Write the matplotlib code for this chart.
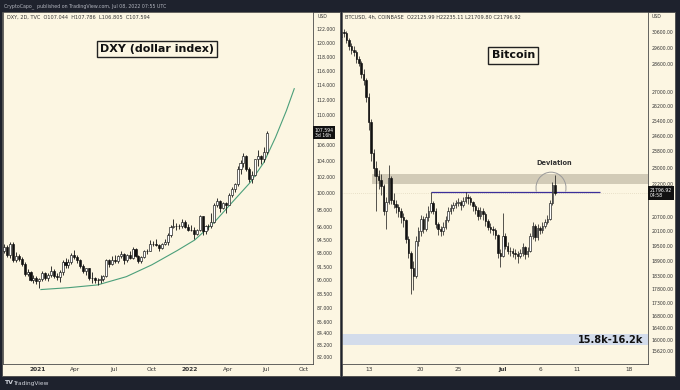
import numpy as np
import pandas as pd
import matplotlib
matplotlib.use('Agg')
import matplotlib.pyplot as plt
import matplotlib.dates as mdates
from matplotlib.patches import Rectangle, Arc
from matplotlib.ticker import NullLocator, NullFormatter
from matplotlib.transforms import blended_transform_factory as blend

plt.rcParams['font.family'] = ['DejaVu Sans']

# ---------------- DXY (weekly candles approximating the 2D chart) ----------------
dxy_start = '2020-10-12'
dxy_open0 = 93.3
dxy_close = [93.7, 92.8, 94.0, 92.2, 92.7, 92.4, 91.8, 90.7, 90.9, 90.0,
             90.3, 89.9, 90.1, 90.8, 90.2, 90.6, 91.0, 90.5, 90.4, 90.9,
             92.0, 91.7, 92.0, 92.8, 92.6, 92.2, 91.6, 91.0, 91.3, 90.2,
             90.3, 90.0, 90.0, 90.1, 90.5, 92.2, 91.8, 92.2, 92.1, 92.7,
             92.9, 92.2, 92.8, 92.5, 93.5, 92.7, 92.1, 92.6, 93.2, 93.3,
             94.0, 94.1, 93.9, 93.6, 94.1, 94.3, 95.1, 96.0, 96.1, 96.1,
             96.1, 96.6, 96.0, 95.7, 95.7, 95.2, 95.6, 97.3, 95.5, 96.1,
             96.1, 96.6, 98.6, 99.1, 98.2, 98.8, 98.6, 99.8, 100.5, 101.1,
             103.0, 103.7, 104.6, 103.0, 101.7, 102.2, 104.2, 104.6, 104.2, 105.1,
             107.594]
dxy_high = [94.1, 93.9, 94.3, 94.3, 93.1, 92.9, 92.6, 92.0, 91.2, 91.0,
            90.6, 90.5, 90.3, 91.0, 90.9, 90.8, 91.6, 91.2, 90.8, 91.1,
            92.2, 92.5, 92.3, 93.0, 93.4, 92.8, 92.3, 91.8, 91.4, 91.4,
            90.9, 90.4, 90.2, 90.6, 90.6, 92.4, 92.4, 92.7, 92.8, 92.8,
            93.2, 93.0, 92.9, 93.2, 93.7, 93.6, 92.8, 92.7, 93.4, 93.5,
            94.5, 94.4, 94.6, 94.0, 94.2, 94.6, 95.3, 96.2, 96.9, 96.5,
            96.4, 96.9, 96.8, 96.3, 96.2, 96.0, 95.8, 97.4, 97.3, 96.2,
            96.4, 97.6, 98.8, 99.4, 99.2, 99.0, 99.0, 100.0, 100.8, 101.3,
            103.3, 104.1, 105.0, 104.7, 103.2, 102.7, 104.3, 105.4, 104.8, 105.8,
            107.786]
dxy_low = [93.0, 92.6, 92.5, 92.0, 92.0, 92.1, 91.6, 90.5, 90.5, 89.9,
           89.7, 89.6, 89.2, 89.9, 90.0, 89.9, 90.4, 90.3, 90.0, 89.8,
           90.6, 91.4, 91.3, 91.8, 92.4, 91.9, 91.4, 90.8, 90.6, 90.0,
           89.7, 89.7, 89.5, 89.7, 89.9, 90.4, 91.5, 91.7, 91.9, 91.9,
           92.5, 91.8, 92.0, 92.3, 92.4, 92.6, 91.9, 91.9, 92.5, 92.9,
           93.2, 93.8, 93.8, 93.3, 93.5, 93.9, 93.9, 94.9, 95.9, 95.7,
           95.8, 95.9, 95.9, 95.5, 95.5, 94.6, 95.1, 95.5, 95.1, 95.2,
           95.6, 95.9, 96.5, 98.3, 97.8, 98.1, 97.7, 98.6, 99.6, 100.1,
           100.9, 102.4, 103.2, 102.7, 101.4, 101.3, 102.1, 103.4, 103.6, 103.9,
           104.9]
dxy_curve_dates = ['2021-01-08', '2021-03-15', '2021-05-24', '2021-08-01', '2021-10-01',
                   '2021-12-01', '2022-01-12', '2022-03-01', '2022-04-10', '2022-05-25',
                   '2022-06-27', '2022-07-25', '2022-08-20', '2022-09-08']
dxy_curve_vals = [89.0, 89.2, 89.5, 90.4, 91.7, 93.3, 94.5, 96.6, 98.8, 101.3,
                  103.8, 107.0, 110.5, 113.5]
dxy_yticks = [122, 120, 118, 116, 114, 112, 110, 106, 104, 102, 100, 98, 96, 94.5,
              93, 91.5, 90, 88.5, 87, 85.6, 84.4, 83.2, 82]
dxy_xtick_dates = ['2021-01-01', '2021-04-01', '2021-07-01', '2021-10-01',
                   '2022-01-01', '2022-04-01', '2022-07-01', '2022-10-01']
dxy_xtick_labels = ['2021', 'Apr', 'Jul', 'Oct', '2022', 'Apr', 'Jul', 'Oct']
dxy_last = 107.594
dxy_xlim = ('2020-10-09', '2022-10-23')
dxy_ylim = (81.33, 124.54)

# ---------------- BTC (8h candles approximating the 4h chart) ----------------
btc_start = '2022-06-09 08:00'
btc_open0 = 30300
btc_close = [30600, 30550, 30100, 29700, 29500, 29350, 28900, 28700, 28000, 27650,
             26700, 25300, 23700, 23000, 22600, 22400, 22100, 21000, 21400, 22500,
             21500, 21300, 21150, 21000, 20700, 20580, 19800, 19200, 18600, 18300,
             19700, 20100, 20650, 20200, 20700, 21000, 21350, 21000, 20400, 20200,
             20100, 20300, 20600, 21000, 21100, 21250, 21350, 21400, 21250, 21450,
             21600, 21550, 21400, 21200, 21050, 20750, 21000, 20850, 20550, 20300,
             20200, 20150, 19950, 19200, 19100, 19900, 19500, 19300, 19270, 19200,
             19150, 19100, 19200, 19450, 19150, 19300, 19900, 20350, 19850, 20250,
             20150, 20350, 20500, 20650, 21350, 22150, 21796.92]
btc_high = [30900, 30800, 30650, 30200, 29900, 29700, 29450, 29100, 28800, 28300,
            27800, 26900, 25500, 23900, 23300, 22900, 22700, 22200, 21600, 23100,
            22600, 21800, 21500, 21300, 21100, 20900, 20650, 19900, 19300, 18900,
            19900, 20300, 20800, 20750, 20900, 21200, 21850, 21450, 21100, 20500,
            20350, 20500, 20750, 21150, 21300, 21400, 21500, 21550, 21500, 21600,
            21850, 21750, 21650, 21450, 21300, 21150, 21150, 21100, 20950, 20650,
            20450, 20350, 20250, 20000, 19350, 20900, 20050, 19650, 19450, 19400,
            19350, 19300, 19350, 19600, 19500, 19450, 20050, 20500, 20400, 20400,
            20350, 20500, 20650, 20800, 21500, 22300, 22640]
btc_low = [30150, 30300, 29900, 29500, 29250, 29100, 28700, 28500, 27800, 27400,
           26400, 24900, 23300, 22600, 21000, 22000, 21700, 20800, 20200, 21300,
           21300, 21100, 20900, 20700, 20450, 20300, 19600, 19000, 17600, 17750,
           18200, 19500, 19900, 20050, 20100, 20550, 20900, 20850, 20250, 19950,
           19900, 19950, 20200, 20500, 20850, 21000, 21100, 21200, 21050, 21150,
           21350, 21300, 21250, 21000, 20850, 20600, 20650, 20600, 20350, 20150,
           20050, 19950, 19800, 19000, 18650, 19050, 19350, 19150, 19100, 19050,
           18950, 18800, 19000, 19100, 18950, 19050, 19250, 19800, 19700, 19750,
           20000, 20050, 20250, 20400, 20600, 21250, 21700]
btc_yticks = [30600, 29600, 28600, 27000, 26200, 25400, 24600, 23800, 23000, 22200,
              20700, 20100, 19500, 18900, 18300, 17800, 17300, 16800, 16400, 16000, 15620]
btc_xtick_dates = ['2022-06-13', '2022-06-20', '2022-06-25', '2022-07-01',
                   '2022-07-06', '2022-07-11', '2022-07-18']
btc_xtick_labels = ['13', '20', '25', 'Jul', '6', '11', '18']
btc_last = 21796.92
btc_xlim = ('2022-06-09 10:00', '2022-07-20 12:00')
btc_ylim = (15195, 31935)
resist_zone = (22200, 22690)
resist_start = '2022-06-13 10:00'
support_zone = (15800, 16200)
breakout_level = 21850
breakout_span = ('2022-06-21 08:00', '2022-07-14 00:00')

# ---------------- layout ----------------
W, H = 680, 390
DARK = '#1e222d'
CREAM = '#fcf6e2'
EDGE = '#4a4a4a'
TXT = '#333333'
YFS = 3.3

fig = plt.figure(figsize=(W / 100, H / 100), dpi=100, facecolor=DARK)


def frect(x0, y0, x1, y1):
    return [x0 / W, 1 - y1 / H, (x1 - x0) / W, (y1 - y0) / H]


for (x0, y0, x1, y1) in [(2, 12, 340, 376), (342, 12, 675, 376)]:
    r = frect(x0, y0, x1, y1)
    fig.add_artist(Rectangle((r[0], r[1]), r[2], r[3], transform=fig.transFigure,
                             facecolor=CREAM, edgecolor=EDGE, lw=0.6, zorder=-5))

axL = fig.add_axes(frect(3, 12, 313, 364), facecolor=CREAM)
axR = fig.add_axes(frect(342, 12, 648, 364), facecolor=CREAM)
axL.set_zorder(2)
axR.set_zorder(2)


def candles(ax, x, o, h, l, c, width, wlw):
    o = np.asarray(o, float); c = np.asarray(c, float)
    h = np.asarray(h, float); l = np.asarray(l, float)
    up = c >= o
    ax.vlines(x, l, h, color='#111111', lw=wlw, zorder=3)
    bottom = np.minimum(o, c)
    height = np.abs(c - o)
    ax.bar(x[up], height[up], width, bottom=bottom[up], color='white',
           edgecolor='#111111', lw=0.45, zorder=4)
    ax.bar(x[~up], height[~up], width, bottom=bottom[~up], color='#111111',
           edgecolor='#111111', lw=0.45, zorder=4)


def style(ax, yticks, fmt, xdates, xlabels, bold_labels=()):
    ax.set_yscale('log')
    ax.yaxis.tick_right()
    ax.yaxis.set_minor_locator(NullLocator())
    ax.yaxis.set_minor_formatter(NullFormatter())
    ax.set_yticks(yticks)
    ax.set_yticklabels([fmt.format(v) for v in yticks])
    ax.tick_params(axis='y', length=0, pad=2.5, labelsize=YFS, colors=TXT)
    xt = mdates.date2num(pd.to_datetime(xdates))
    ax.set_xticks(xt)
    ax.set_xticklabels(xlabels)
    ax.tick_params(axis='x', length=0, pad=2, labelsize=4.2, colors=TXT)
    for lab in ax.get_xticklabels():
        lab.set_fontweight('bold' if lab.get_text() in bold_labels else 'normal')
    for s in ax.spines.values():
        s.set_color(EDGE)
        s.set_linewidth(0.6)


# ---------------- DXY panel ----------------
dxy_x = mdates.date2num(pd.date_range(dxy_start, periods=len(dxy_close), freq='7D'))
dxy_open = [dxy_open0] + dxy_close[:-1]
candles(axL, dxy_x, dxy_open, dxy_high, dxy_low, dxy_close, 5.0, 0.6)
axL.plot(mdates.date2num(pd.to_datetime(dxy_curve_dates)), dxy_curve_vals,
         color='#4b9f7a', lw=0.8, zorder=2)
style(axL, dxy_yticks, '{:.3f}', dxy_xtick_dates, dxy_xtick_labels, ('2021', '2022'))
axL.set_xlim(*mdates.date2num(pd.to_datetime(list(dxy_xlim))))
axL.set_ylim(*dxy_ylim)
axL.text(1.006, dxy_last, f'{dxy_last:.3f}\n3d 16h', transform=blend(axL.transAxes, axL.transData),
         ha='left', va='center', fontsize=YFS, color='white', linespacing=1.0,
         bbox=dict(boxstyle='square,pad=0.35', fc='#111111', ec='none'), zorder=6, clip_on=False)
axL.text(0.497, 0.895, 'DXY (dollar index)', transform=axL.transAxes, ha='center', va='center',
         fontsize=8, fontweight='bold', color='#111111',
         bbox=dict(boxstyle='square,pad=0.3', fc=CREAM, ec='#222222', lw=1.0), zorder=6)

# ---------------- BTC panel ----------------
btc_x = mdates.date2num(pd.date_range(btc_start, periods=len(btc_close), freq='8h'))
btc_open = [btc_open0] + btc_close[:-1]
xl = mdates.date2num(pd.to_datetime(list(btc_xlim)))
axR.fill_between([mdates.date2num(pd.Timestamp(resist_start)), xl[1]], resist_zone[0], resist_zone[1],
                 color='#d2cbb7', lw=0, zorder=1)
axR.axhspan(support_zone[0], support_zone[1], color='#d3dceb', lw=0, zorder=1)
axR.axhline(btc_last, color='#d6ccb0', lw=0.5, ls=(0, (1, 2)), zorder=1)
bs = mdates.date2num(pd.to_datetime(list(breakout_span)))
axR.hlines(breakout_level, bs[0], bs[1], color='#3b2f9a', lw=0.9, zorder=2)
candles(axR, btc_x, btc_open, btc_high, btc_low, btc_close, 0.2, 0.5)
style(axR, btc_yticks, '{:.2f}', btc_xtick_dates, btc_xtick_labels, ('Jul',))
axR.set_xlim(*xl)
axR.set_ylim(*btc_ylim)
axR.text(1.006, btc_last, f'{btc_last:.2f}\n04:58', transform=blend(axR.transAxes, axR.transData),
         ha='left', va='center', fontsize=YFS, color='white', linespacing=1.0,
         bbox=dict(boxstyle='square,pad=0.35', fc='#111111', ec='none'), zorder=6, clip_on=False)
axR.text(0.560, 0.877, 'Bitcoin', transform=axR.transAxes, ha='center', va='center',
         fontsize=8, fontweight='bold', color='#111111',
         bbox=dict(boxstyle='square,pad=0.3', fc=CREAM, ec='#222222', lw=1.0), zorder=6)
axR.add_patch(Arc((0.683, 0.500), 0.098, 0.090, theta1=-12, theta2=192,
                  transform=axR.transAxes, color='#9a9a9a', lw=0.7, zorder=5))
axR.text(0.693, 0.571, 'Deviation', transform=axR.transAxes, ha='center', va='center',
         fontsize=4.8, fontweight='bold', color='#333333', zorder=6)
axR.text(0.985, sum(support_zone) / 2, '15.8k-16.2k', transform=blend(axR.transAxes, axR.transData),
         ha='right', va='center', fontsize=7, fontweight='bold', color='#111111', zorder=6)

# ---------------- header / footer texts ----------------
fig.text(4 / W, 1 - 6 / H, 'CryptoCapo_  published on TradingView.com, Jul 08, 2022 07:55 UTC',
         fontsize=3.4, color='#b2b5be', va='center', ha='left')
fig.text(7 / W, 1 - 17.5 / H, 'DXY, 2D, TVC  O107.044  H107.786  L106.805  C107.594',
         fontsize=3.6, color=TXT, va='center', ha='left', zorder=10)
fig.text(345 / W, 1 - 17.5 / H, 'BTCUSD, 4h, COINBASE  O22125.99 H22235.11 L21709.80 C21796.92',
         fontsize=3.6, color=TXT, va='center', ha='left', zorder=10)
fig.text(318 / W, 1 - 16 / H, 'USD', fontsize=YFS, color=TXT, va='center', ha='left', zorder=10)
fig.text(652 / W, 1 - 16 / H, 'USD', fontsize=YFS, color=TXT, va='center', ha='left', zorder=10)
fig.text(4 / W, 1 - 383 / H, 'TV', fontsize=4.5, fontweight='bold', color='#d1d4dc', va='center', ha='left')
fig.text(13 / W, 1 - 383 / H, 'TradingView', fontsize=4.2, color='#d1d4dc', va='center', ha='left')

fig.savefig('out.png', dpi=100, facecolor=DARK)
